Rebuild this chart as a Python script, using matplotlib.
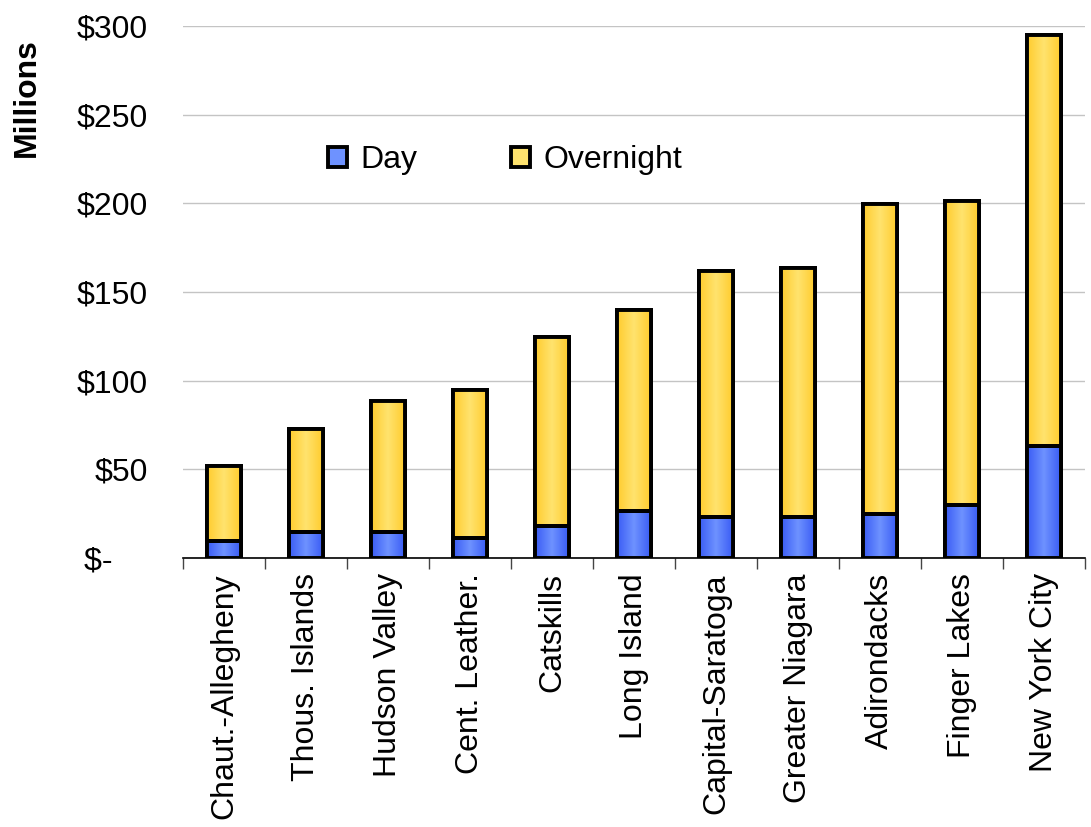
import numpy as np
import matplotlib
matplotlib.use("Agg")
import matplotlib.pyplot as plt
from matplotlib.colors import LinearSegmentedColormap
from matplotlib.ticker import FuncFormatter, FixedLocator

plt.rcParams["font.family"] = ["Liberation Sans", "DejaVu Sans"]

# regional visitor spending, $ millions
regions = ["Chaut.-Allegheny", "Thous. Islands", "Hudson Valley", "Cent. Leather.",
           "Catskills", "Long Island", "Capital-Saratoga", "Greater Niagara",
           "Adirondacks", "Finger Lakes", "New York City"]
day = [9.6, 14.7, 14.7, 11.3, 18.0, 26.5, 23.0, 23.0, 24.8, 29.9, 63.3]
total = [51.9, 72.9, 88.5, 94.8, 124.6, 139.9, 161.9, 163.6, 199.7, 201.4, 295.0]
overnight = [t - d for t, d in zip(total, day)]

BLUE = ["#3a5cf5", "#6e92ff", "#3a5cf5"]
YELLOW = ["#ffcc2e", "#ffe36e", "#ffcc2e"]
FS = 23


def shaded_bars(ax, x, heights, bottoms, colors, label, width=0.41):
    bars = ax.bar(x, heights, width, bottom=bottoms, color=colors[1],
                  edgecolor="black", linewidth=2.8, label=label, zorder=3)
    cmap = LinearSegmentedColormap.from_list("shade", colors)
    grad = np.linspace(0, 1, 64).reshape(1, -1)
    for b in bars:
        x0, y0 = b.get_x(), b.get_y()
        im = ax.imshow(grad, cmap=cmap, aspect="auto", zorder=3.5,
                       extent=(x0, x0 + b.get_width(), y0, y0 + b.get_height()))
        im.set_clip_path(b)
        # redraw outline on top of the gradient
        ax.bar(x0 + b.get_width() / 2, b.get_height(), b.get_width(), bottom=y0,
               fill=False, edgecolor="black", linewidth=2.8, zorder=4)
    return bars


fig = plt.figure(figsize=(10.91, 8.27), dpi=100)
ax = fig.add_axes([0.1677, 0.3253, 0.8268, 0.6433])

x = np.arange(len(regions))
shaded_bars(ax, x, day, None, BLUE, "Day")
shaded_bars(ax, x, overnight, day, YELLOW, "Overnight")

ax.set_xlim(-0.5, len(regions) - 0.5)
ax.set_ylim(0, 300)
ax.set_yticks(np.arange(0, 301, 50))
ax.yaxis.set_major_formatter(FuncFormatter(
    lambda v, _: "$-\u2007\u2007" if v == 0 else f"${v:.0f}"))
ax.tick_params(axis="y", length=0, pad=25, labelsize=FS)
ax.grid(axis="y", color="#c4c4c4", linewidth=1, zorder=0)

ax.set_xticks(x)
ax.set_xticklabels(regions, rotation=90, fontsize=FS)
ax.tick_params(axis="x", which="major", length=0, pad=11)
ax.xaxis.set_minor_locator(FixedLocator(np.arange(-0.5, len(regions), 1.0)))
ax.tick_params(axis="x", which="minor", length=8, width=1, color="#444444",
               direction="out")

for side in ["left", "right", "top"]:
    ax.spines[side].set_visible(False)
ax.spines["bottom"].set_linewidth(1.2)
ax.spines["bottom"].set_zorder(5)

fig.text(0.025, 0.882, "Millions", rotation=90, fontsize=FS, fontweight="bold",
         ha="center", va="center")

handles, labels = ax.get_legend_handles_labels()
ax.legend(handles, labels, ncol=2, frameon=False, fontsize=FS,
          loc="center", bbox_to_anchor=(0.357, 0.748), handlelength=0.6,
          handleheight=0.6, handletextpad=0.4, columnspacing=2.95)

fig.savefig("out.png", dpi=100)
